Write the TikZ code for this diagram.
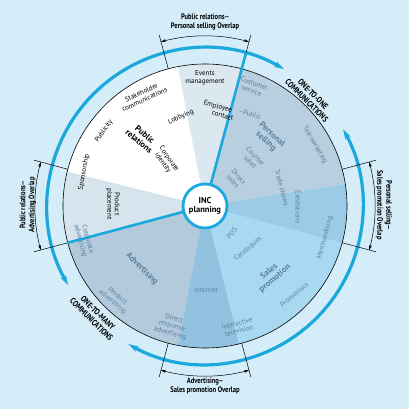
\documentclass[tikz,border=0pt]{standalone}
\usepackage{fontspec}
\setmainfont{PT Sans}
\newfontfamily\narrowfont[FakeStretch=0.82]{PT Sans}
\usetikzlibrary{arrows.meta}
\definecolor{bgblue}{HTML}{D4EDF8}
\definecolor{ringblue}{HTML}{1AA8DD}
\definecolor{secgray}{HTML}{5C7F9E}
\definecolor{prtop}{HTML}{DCE8F0}
\definecolor{prleft}{HTML}{D6E4ED}
\definecolor{advcore}{HTML}{B2CADC}
\definecolor{advsp}{HTML}{92C2E0}
\definecolor{spcore}{HTML}{A8D9F1}
\definecolor{pssp}{HTML}{9CCBE7}
\definecolor{pscore}{HTML}{B8CFE0}
\tikzset{
  sectxt/.style={font=\fontsize{7}{7.5}\selectfont,align=center,text=secgray,inner sep=0pt},
  prtxt/.style={sectxt,text=black},
  headtxt/.style={font=\fontsize{8.5}{9}\selectfont\bfseries,align=center,text=secgray,inner sep=0pt},
  overlaptxt/.style={font=\narrowfont\bfseries\fontsize{8}{9}\selectfont,align=center,inner sep=0pt},
  commtxt/.style={font=\narrowfont\bfseries\fontsize{8.5}{9}\selectfont,align=center,inner sep=0pt},
  ring/.style={ringblue,line width=3.2pt,{Stealth[length=10pt,width=6pt]}-{Stealth[length=10pt,width=6pt]}},
  spoke/.style={ringblue,line width=2.6pt},
  dimarc/.style={black,line width=0.5pt,{Stealth[length=5pt,width=3pt]}-{Stealth[length=5pt,width=3pt]}},
  tick/.style={black,line width=0.5pt}
}
\begin{document}
\begin{tikzpicture}[x=1pt,y=1pt,line join=round,line cap=round]
\fill[bgblue] (-205,-203) rectangle (204,206);
\useasboundingbox (-205,-203) rectangle (204,206);
\coordinate (O) at (0,0);
% wedges of the disc
\fill[white]   (O) -- (101:142) arc[start angle=101,end angle=166,radius=142] -- cycle;
\fill[prtop]   (O) -- (75:142) arc[start angle=75,end angle=101,radius=142] -- cycle;
\fill[prleft]  (O) -- (166:142) arc[start angle=166,end angle=195,radius=142] -- cycle;
\fill[advcore] (O) -- (195:142) arc[start angle=195,end angle=259,radius=142] -- cycle;
\fill[advsp]   (O) -- (259:142) arc[start angle=259,end angle=284,radius=142] -- cycle;
\fill[spcore]  (O) -- (284:142) arc[start angle=284,end angle=345,radius=142] -- cycle;
\fill[pssp]    (O) -- (-15:142) arc[start angle=-15,end angle=9,radius=142] -- cycle;
\fill[pscore]  (O) -- (9:142) arc[start angle=9,end angle=75,radius=142] -- cycle;
\draw[line width=0.6pt] (O) circle (142);
% outer ring
\draw[ring] (60:158) arc[start angle=60,end angle=210,radius=158];
\draw[ring] (-119:158) arc[start angle=-119,end angle=29,radius=158];
\node[commtxt,rotate=-45] (onetoone) at (46:151) {ONE-TO-ONE\\COMMUNICATIONS};
\node[commtxt,rotate=-45] (onetomany) at (225:156) {ONE-TO-MANY\\COMMUNICATIONS};
% overlaps
\draw[tick] (75:142) -- (75:177); \draw[tick] (105:142) -- (105:177);
\draw[dimarc] (75:170) arc[start angle=75,end angle=105,radius=170];
\draw[tick] (165:142) -- (165:177); \draw[tick] (195:142) -- (195:177);
\draw[dimarc] (165:170) arc[start angle=165,end angle=195,radius=170];
\draw[tick] (255:142) -- (255:177); \draw[tick] (285:142) -- (285:177);
\draw[dimarc] (255:170) arc[start angle=255,end angle=285,radius=170];
\draw[tick] (-15:142) -- (-15:177); \draw[tick] (15:142) -- (15:177);
\draw[dimarc] (-15:170) arc[start angle=-15,end angle=15,radius=170];
\node[overlaptxt] (ovtop) at (0,184) {Public relations--\\Personal selling Overlap};
\node[overlaptxt,rotate=-90] (ovright) at (179,1) {Personal selling--\\Sales promotion Overlap};
\node[overlaptxt,rotate=90] (ovleft) at (-177,1) {Public relations--\\Advertising Overlap};
\node[overlaptxt] (ovbottom) at (0,-180) {Advertising--\\Sales promotion Overlap};
% centre and spokes
\node[circle,fill=white,draw=ringblue,line width=2.8pt,minimum size=44pt,inner sep=0pt,
  font=\fontsize{8.5}{9.5}\selectfont\bfseries,align=center] (inc) at (O) {INC\\planning};
\coordinate (spoketop) at (75:158);
\coordinate (spokeleft) at (195:142);
\draw[spoke] (inc.75) -- (spoketop);
\draw[spoke] (inc.195) -- (spokeleft);
% public relations
\node[prtxt] (events) at (0,128) {Events\\management};
\node[prtxt,rotate=-15] (employee) at (12,96) {Employee\\\hspace{14pt}contact};
\node[sectxt,rotate=-15] (public) at (45,92) {--Public};
\node[prtxt,rotate=25] (stakeholder) at (-62,110) {Stakeholder\\communications};
\node[prtxt,rotate=55] (publicity) at (-101,75) {Publicity};
\node[prtxt,rotate=80] (sponsorship) at (-121,34) {Sponsorship};
\node[headtxt,text=black,rotate=-40] (prhead) at (-63,68) {Public\\relations};
\node[prtxt,rotate=25] (lobbying) at (-24,89) {Lobbying};
\node[prtxt,rotate=-55] (corpid) at (-39,45) {Corporate\\identity};
\node[prtxt,rotate=-90] (placement) at (-92,2) {Product\\placement};
% personal selling
\node[sectxt,rotate=-20] (customer) at (48,119) {Customer\\service};
\node[headtxt,rotate=-42] (pshead) at (64,68) {Personal\\selling};
\node[sectxt,rotate=-45] (counter) at (48,47) {Counter\\sales};
\node[sectxt,rotate=-50] (direct) at (31,27) {Direct\\sales};
\node[sectxt,rotate=-60] (telemarketing) at (110,61) {Telemarketing};
\node[sectxt,rotate=-75] (tradeshows) at (77,18) {Trade shows};
\node[sectxt,rotate=-90] (exhibitions) at (93,-1) {Exhibitions};
% sales promotion
\node[sectxt,rotate=75] (merch) at (120,-32) {Merchandising};
\node[sectxt,rotate=50] (pos) at (27,-27) {POS};
\node[sectxt,rotate=40] (catalogues) at (43,-43) {Catalogues};
\node[headtxt,rotate=40] (sphead) at (67,-69) {Sales\\promotion};
\node[sectxt,rotate=40] (promotions) at (89,-89) {Promotions};
\node[sectxt,rotate=15] (itv) at (33,-121) {Interactive\\television};
\node[sectxt] (internet) at (1,-84) {Internet};
% advertising
\node[sectxt,rotate=-15] (directresp) at (-33,-120) {Direct\\response\\advertising};
\node[sectxt,rotate=-40] (prodadv) at (-90,-93) {Product\\advertising};
\node[headtxt,rotate=-45] (advhead) at (-63,-63) {Advertising};
\node[sectxt,rotate=-75] (corpadv) at (-121,-34) {Corporate\\advertising};
\end{tikzpicture}
\end{document}
